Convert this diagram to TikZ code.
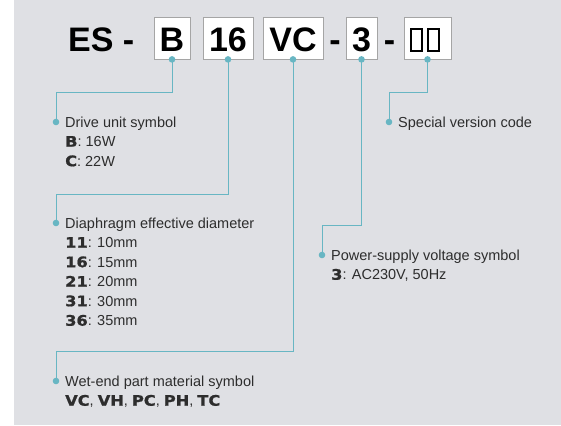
\documentclass[tikz,border=0pt]{standalone}
\usepackage{fontspec}
\setmainfont{Liberation Sans}
\newfontfamily\heavyfont{DejaVu Sans}[FakeStretch=1.12,BoldFeatures={FakeBold=1.2}]
\usetikzlibrary{calc}
\definecolor{panelgray}{RGB}{223,224,228}
\definecolor{leadteal}{RGB}{104,182,195}
\definecolor{boxgray}{RGB}{165,165,165}
\definecolor{textgray}{RGB}{45,45,45}
\newcommand{\hv}[1]{{\heavyfont\bfseries #1}}

\begin{document}
\begin{tikzpicture}[x=1pt,y=-1pt,
  codebox/.style={draw=boxgray,fill=white,line width=0.8pt,inner sep=0pt,minimum height=42,text height=28,text depth=0pt,font=\fontsize{34}{34}\selectfont\bfseries},
  codetext/.style={inner sep=0pt,anchor=base west,font=\fontsize{34}{34}\selectfont\bfseries},
  lead/.style={draw=leadteal,line width=0.9pt},
  note/.style={inner sep=0pt,anchor=north west,align=left,text=textgray,font=\fontsize{14.5}{19.5}\selectfont}]
\useasboundingbox (0,0) rectangle (561,425);
\fill[panelgray] (14,0) rectangle (561,425);
% model code
\node[codetext] (es) at (68,52) {ES -};
\node[codebox,minimum width=36] (b) at (172,38) {B};
\node[codebox,minimum width=50] (n16) at (228,38) {16};
\node[codebox,minimum width=60] (vc) at (293,38) {VC};
\node[codetext,anchor=base] (d1) at (335,52) {-};
\node[codebox,minimum width=31] (v3) at (361.5,38) {3};
\node[codetext,anchor=base] (d2) at (389.5,52) {-};
\node[codebox,minimum width=47] (sv) at (427.5,38) {};
\draw[line width=2.4pt] ($(sv.center)+(-16.5,-9)$) rectangle ++(11,22);
\draw[line width=2.4pt] ($(sv.center)+(0.5,-9)$) rectangle ++(11,22);
% label points
\coordinate (drv) at (56,122); \coordinate (dia) at (56,223); \coordinate (wet) at (56,381);
\coordinate (pwr) at (322,255); \coordinate (spc) at (389,122);
% leads
\draw[lead] (b.south) -- ++(0,33) -| (drv);
\draw[lead] (n16.south) -- ++(0,135) -| (dia);
\draw[lead] (vc.south) -- ++(0,292) -| (wet);
\draw[lead] (v3.south) -- ++(0,166) -| (pwr);
\draw[lead] (sv.south) -- ++(0,33) -| (spc);
\foreach \p in {b.south,n16.south,vc.south,v3.south,sv.south,drv,dia,wet,pwr,spc}
  \fill[leadteal] (\p) circle[radius=3.3pt];
% labels (first baseline 5pt under the dot)
\node[note] (drvt) at ($(drv)+(9,-8.65)$) {\strut Drive unit symbol\\ \hv{B}: 16W\\ \hv{C}: 22W};
\node[note] (diat) at ($(dia)+(9,-8.65)$) {\strut Diaphragm effective diameter\\ \hv{11}: 10mm\\ \hv{16}: 15mm\\ \hv{21}: 20mm\\ \hv{31}: 30mm\\ \hv{36}: 35mm};
\node[note] (wett) at ($(wet)+(9,-8.65)$) {\strut Wet-end part material symbol\\ \hv{VC}, \hv{VH}, \hv{PC}, \hv{PH}, \hv{TC}};
\node[note] (pwrt) at ($(pwr)+(9,-8.65)$) {\strut Power-supply voltage symbol\\ \hv{3}: AC230V, 50Hz};
\node[note] (spct) at ($(spc)+(9,-8.65)$) {\strut Special version code};
\end{tikzpicture}
\end{document}
